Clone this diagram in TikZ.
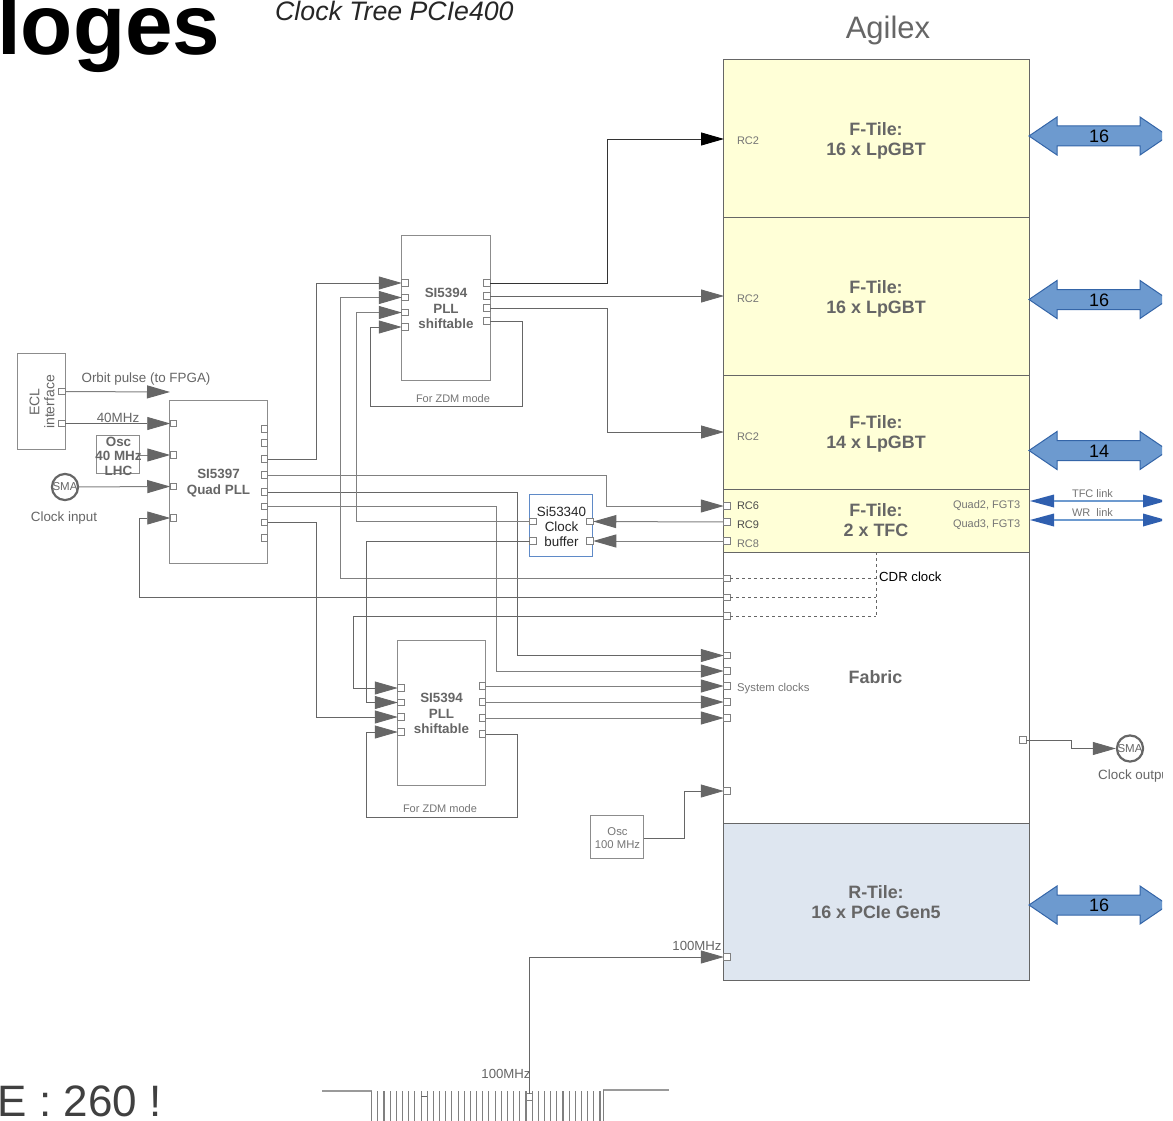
\documentclass[tikz,border=0pt]{standalone}
\usepackage{fontspec}
\setmainfont{Liberation Sans}
\usetikzlibrary{arrows.meta}
\definecolor{yel}{HTML}{FFFFD7}
\definecolor{rtile}{HTML}{DEE6F0}
\definecolor{lin}{HTML}{808080}
\definecolor{dk}{HTML}{666666}
\definecolor{edge}{HTML}{8C8C8C}
\definecolor{bluef}{HTML}{6D9ACF}
\definecolor{bluee}{HTML}{3465A8}
\definecolor{bufedge}{HTML}{5F8AC7}
\definecolor{tfc}{HTML}{2F5FAF}
\newcommand{\fs}[1]{\fontsize{#1}{#1}\selectfont}
\newcommand{\Pin}[3]{\node[pinbox] (#1) at (#2,#3) {};}
\tikzset{
 pinbox/.style={draw=lin,fill=white,line width=0.9pt,minimum size=6.5pt,inner sep=0pt,outer sep=0pt},
 conn/.style={draw=lin,line width=1pt,line join=miter},
 thn/.style={draw=dk,line width=0.8pt},
 arr/.style={-{Triangle[length=23pt,width=13pt,color=dk]}},
 chip/.style={draw=edge,line width=1pt,fill=white,inner sep=0pt,outer sep=0pt},
 tile/.style={draw=dk,line width=0.9pt,inner sep=0pt,outer sep=0pt},
 lbl/.style={text=dk,inner sep=0pt,align=center},
 bold/.style={text=dk,inner sep=0pt,align=center,font=\bfseries\fs{13.4}},
 tilelbl/.style={text=dk,inner sep=0pt,align=center,font=\bfseries\fs{17.9},text depth=0pt},
 small/.style={text=dk!90,inner sep=0pt,font=\fs{11}},
 sma/.style={circle,draw=dk,line width=2.2pt,fill=white,minimum size=25.5pt,inner sep=0pt,font=\fs{11.5},text=dk},
}
\begin{document}
\begin{tikzpicture}[x=1pt,y=-1pt]
\useasboundingbox (0,0) rectangle (1173,1121);
\fill[white] (0,0) rectangle (1173,1121);
\clip (0,0) rectangle (1162,1121);
% titles
\node[anchor=base west,inner sep=0pt,font=\bfseries\fs{85.5}] (title) at (-3,55) {loges};
\node[anchor=base west,inner sep=0pt,font=\itshape\fs{26.7},text=black!85] (tree) at (275,21) {Clock Tree PCIe400};
\node[text=dk,inner sep=0pt,font=\fs{31}] (agx) at (888,30.5) {Agilex};
\node[anchor=base east,inner sep=0pt,font=\fs{44},text=black!75] (cnt) at (162,1116) {E : 260 !};
% FPGA tiles
\path[tile,fill=yel] (723.5,59.5) rectangle (1029,217);
\path[tile,fill=yel] (723.5,217) rectangle (1029,375);
\path[tile,fill=yel] (723.5,375) rectangle (1029,489);
\path[tile,fill=yel] (723.5,489) rectangle (1029,552);
\path[tile,fill=white] (723.5,552) rectangle (1029,823);
\path[tile,fill=rtile] (723.5,823) rectangle (1029,980);
\node[tilelbl] (t1) at (876,139) {F-Tile:\\[3pt]16 x LpGBT};
\node[tilelbl] (t2) at (876,297) {F-Tile:\\[3pt]16 x LpGBT};
\node[tilelbl] (t3) at (876,432) {F-Tile:\\[3pt]14 x LpGBT};
\node[tilelbl] (t4) at (876,520) {F-Tile:\\[3pt]2 x TFC};
\node[tilelbl] (t5) at (875.5,677) {Fabric};
\node[tilelbl] (t6) at (876,902) {R-Tile:\\[3pt]16 x PCIe Gen5};
\node[small] (rc2a) at (748,141) {RC2};
\node[small] (rc2b) at (748,299) {RC2};
\node[small] (rc2c) at (748,437) {RC2};
\node[small,text=black!70] (rc6) at (748,506) {RC6};
\node[small,text=black!70] (rc9) at (748,525) {RC9};
\node[small] (rc8) at (748,544) {RC8};
\node[small,anchor=east] (q2) at (1020.5,506) {Quad2, FGT3};
\node[small,anchor=east] (q3l) at (1020.5,525) {Quad3, FGT3};
\node[small,anchor=west,font=\fs{11.3}] (sys) at (737,689) {System clocks};
\node[anchor=west,inner sep=0pt,font=\fs{13.2},text=black] (cdr) at (879,576.5) {CDR clock};
% bidirectional arrows
\foreach \yy/\ty/\tx/\nn in {136/136/16/n1,299.5/300/16/n2,450.5/451/14/n3,905/905/16/n4}{
 \fill[bluef,draw=bluee,line width=1pt] (1029,\yy) -- (1057,\yy-19) -- (1057,\yy-10) -- (1140,\yy-10) -- (1140,\yy-19) -- (1168,\yy) -- (1140,\yy+19) -- (1140,\yy+10) -- (1057,\yy+10) -- (1057,\yy+19) -- cycle;
 \node[text=black,inner sep=0pt,font=\fs{18}] (\nn) at (1099,\ty) {\tx};
}
\foreach \yy in {501,520}{
 \fill[tfc] (1030,\yy) -- (1054,\yy-6.5) -- (1054,\yy+6.5) -- cycle;
 \fill[tfc] (1166,\yy) -- (1143,\yy-6.5) -- (1143,\yy+6.5) -- cycle;
 \draw[bluef,line width=1.3pt] (1054,\yy) -- (1143,\yy);
}
\node[small] (tfcl) at (1092.5,494) {TFC link};
\node[small] (wrl) at (1092.5,513) {WR\ \ link};
% chips
\node[chip,anchor=north west,minimum width=48pt,minimum height=96pt] (ecl) at (17.6,353.6) {};
\node[lbl,rotate=90,font=\fs{14}] (ecltxt) at (42,402) {ECL\\[1pt]interface};
\node[chip,anchor=north west,minimum width=98pt,minimum height=163pt] (qpll) at (169.6,400.6) {};
\node[bold] (qtxt) at (218.5,483) {SI5397\\[2pt]Quad PLL};
\node[chip,anchor=north west,minimum width=43pt,minimum height=38pt] (osc) at (96.6,435.6) {};
\node[bold,font=\bfseries\fs{13.4}] (osctxt) at (118.5,456) {Osc\\[1pt]40 MHz\\[1pt]LHC};
\node[chip,anchor=north west,minimum width=88.5pt,minimum height=144.5pt] (pa) at (401.6,235.6) {};
\node[bold] (patxt) at (446,308.5) {SI5394\\[2pt]PLL\\[2pt]shiftable};
\node[chip,anchor=north west,minimum width=88.5pt,minimum height=144.5pt] (pb) at (397.1,640.6) {};
\node[bold] (pbtxt) at (441.5,713.5) {SI5394\\[2pt]PLL\\[2pt]shiftable};
\node[chip,draw=bufedge,line width=1.2pt,anchor=north west,minimum width=63pt,minimum height=62pt] (buf) at (529.6,494.6) {};
\node[inner sep=0pt,align=center,text=black!85,font=\fs{13.4}] (buftxt) at (561.5,527) {Si53340\\[1.5pt]Clock\\[1.5pt]buffer};
\node[chip,anchor=north west,minimum width=53pt,minimum height=43pt] (o100) at (590.6,815.6) {};
\node[small,align=center,font=\fs{11.3}] (o100t) at (617.5,838) {Osc\\[1.5pt]100 MHz};
\node[sma] (smai) at (65,487) {SMA};
\node[sma] (smao) at (1130,748.5) {SMA};
\node[lbl,font=\fs{13.4}] (cin) at (64,518) {Clock input};
\node[lbl,font=\fs{13.4},anchor=west] (cout) at (1098,776) {Clock output};
\node[lbl,font=\fs{13.4}] (orb) at (146,379) {Orbit pulse (to FPGA)};
\node[lbl,font=\fs{13.4}] (m40) at (118,418) {40MHz};
\node[small] (zdma) at (453,398.5) {For ZDM mode};
\node[small] (zdmb) at (440,808.5) {For ZDM mode};
\node[lbl,font=\fs{13.2}] (m100a) at (697,945.5) {100MHz};
\node[lbl,font=\fs{13.2}] (m100b) at (506,1073.5) {100MHz};
% pins
\Pin{e1}{62}{391.5}\Pin{e2}{62}{423.5}
\Pin{qi1}{173.5}{423.5}\Pin{qi2}{173.5}{455}\Pin{qi3}{173.5}{486.5}\Pin{qi4}{173.5}{518}
\Pin{qo1}{264.5}{429}\Pin{qo2}{264.5}{443}\Pin{qo3}{264.5}{459}\Pin{qo4}{264.5}{475}
\Pin{qo5}{264.5}{492}\Pin{qo6}{264.5}{506.5}\Pin{qo7}{264.5}{522.5}\Pin{qo8}{264.5}{538}
\Pin{ai1}{405}{283}\Pin{ai2}{405}{297.5}\Pin{ai3}{405}{312.5}\Pin{ai4}{405}{327}
\Pin{ao1}{487}{283}\Pin{ao2}{487}{296}\Pin{ao3}{487}{308}\Pin{ao4}{487}{321}
\Pin{bi1}{401}{688}\Pin{bi2}{401}{702.5}\Pin{bi3}{401}{717}\Pin{bi4}{401}{732}
\Pin{bo1}{482.5}{686}\Pin{bo2}{482.5}{702}\Pin{bo3}{482.5}{718}\Pin{bo4}{482.5}{734}
\Pin{ci1}{533}{521.5}\Pin{ci2}{533}{541}\Pin{co1}{590}{521.5}\Pin{co2}{590}{541}
\Pin{f6}{727}{506}\Pin{f9}{727}{522}\Pin{f8}{727}{541}
\Pin{d1}{727}{578.5}\Pin{d2}{727}{597.5}\Pin{d3}{727}{616}
\Pin{s1}{727}{655.5}\Pin{s2}{727}{671}\Pin{s3}{727}{686}\Pin{s4}{727}{702}\Pin{s5}{727}{718}
\Pin{s6}{727}{791}\Pin{s7}{727}{957}\Pin{so}{1023}{740}\Pin{pcie}{529}{1097}
\coordinate (orbend) at (170,392);
\coordinate (rc1) at (724,139);
\coordinate (rc2) at (724,296);
\coordinate (rc3) at (724,432);
\coordinate (cdrtop) at (876,552);
\coordinate (cdrbot) at (876,616);
% connectors
\path[conn,arr] (e1) -- (orbend);
\path[thn,arr] (e2) -- (qi1);
\path[conn,arr] (osc.east |- qi2) -- (qi2);
\path[conn,arr] (smai) -- (qi3);
\path[thn,arr] (qo3) -- (316,459) -- (316,283) -- (ai1);
\path[conn,arr] (qo4) -- (606,475) -- (606,506) -- (f6);
\path[thn,arr] (qo5) -- (517,492) -- (517,655.5) -- (s1);
\path[conn,arr] (qo6) -- (496,506.5) -- (496,671) -- (s2);
\path[thn,arr] (qo7) -- (316,522.5) -- (316,717) -- (bi3);
\path[conn,arr] (d1) -- (340,578.5) -- (340,297.5) -- (ai2);
\path[conn,arr] (ci1) -- (356,521.5) -- (356,312.5) -- (ai3);
\path[thn,arr] (ao4) -- (522,321) -- (522,406) -- (370,406) -- (370,327) -- (ai4);
\path[thn,arr] (d2) -- (139,597.5) -- (139,518) -- (qi4);
\path[thn,arr] (d3) -- (353,616) -- (353,688) -- (bi1);
\path[thn,arr] (ci2) -- (366,541) -- (366,702.5) -- (bi2);
\path[thn,arr] (bo4) -- (517,734) -- (517,817) -- (366,817) -- (366,732) -- (bi4);
\path[draw=black!80,line width=0.9pt,-{Triangle[length=23pt,width=13pt,color=black]}] (ao1) -- (607,283) -- (607,139) -- (rc1);
\path[thn,arr] (ao2) -- (rc2);
\path[thn,arr] (ao3) -- (607,308) -- (607,432) -- (rc3);
\path[conn,arr] (f9) -- (co1);
\path[conn,arr] (f8) -- (co2);
\path[conn,arr] (bo1) -- (s3);
\path[conn,arr] (bo2) -- (s4);
\path[conn,arr] (bo3) -- (s5);
\path[thn,arr] (o100.east |- 0,838) -- (684,838) -- (684,791) -- (s6);
\path[thn,arr] (pcie) -- (529,957) -- (s7);
\path[thn,arr] (so) -- (1071,740) -- (1071,748.5) -- (smao);
% CDR dashed
\draw[dk,line width=0.8pt,dash pattern=on 3pt off 3pt] (d1) -- (876,578.5);
\draw[dk,line width=0.8pt,dash pattern=on 3pt off 3pt] (d2) -- (876,597.5);
\draw[dk,line width=0.8pt,dash pattern=on 3pt off 3pt] (d3) -- (cdrbot);
\draw[dk,line width=0.8pt,dash pattern=on 3pt off 3pt] (cdrtop) -- (cdrbot);
% connector comb
\draw[lin!80,line width=1.1pt] (322,1091) -- (372,1091);
\draw[lin!80,line width=1.1pt] (603,1090) -- (669,1090);
\foreach \k in {0,...,37}{
 \draw[lin,line width=1.1pt] ({371.7+\k*6.17},1091) -- ({371.7+\k*6.17},1121);
}
\draw[lin,line width=1.1pt] (603.3,1090) -- (603.3,1121);
\draw[dk,line width=0.9pt] (421,1096) -- (427,1096);
\end{tikzpicture}
\end{document}
